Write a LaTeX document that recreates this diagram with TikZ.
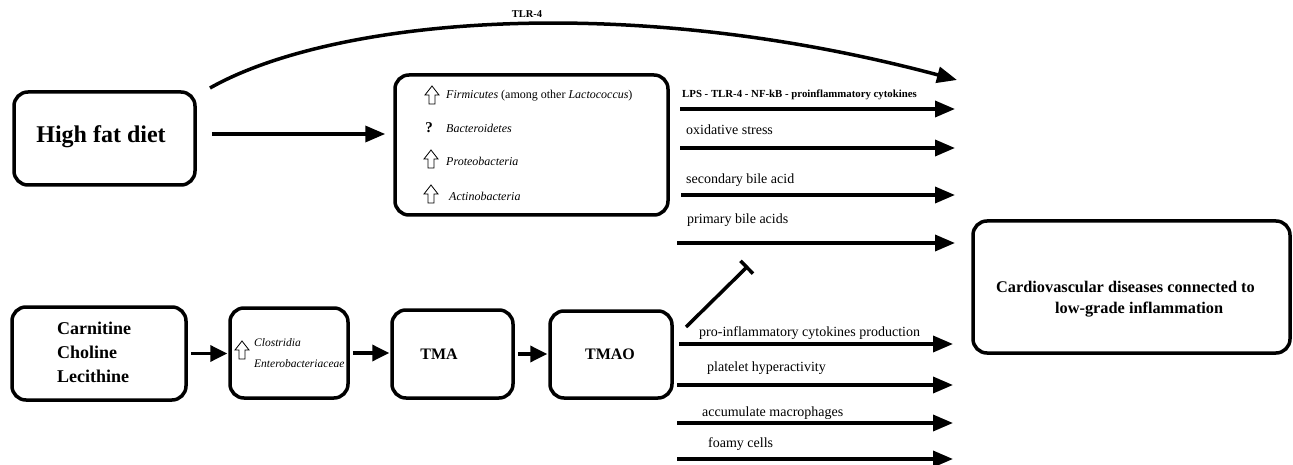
\documentclass[tikz,border=0pt]{standalone}
\usepackage{fontspec}
\setmainfont{Liberation Serif}
\usetikzlibrary{arrows.meta}
\newcommand{\hollowuparrow}[2]{%
  \draw[line width=0.8pt, line join=miter] (#1-3,#2+9) -- (#1-3,#2) -- (#1-7,#2) -- (#1,#2-9) -- (#1+7,#2) -- (#1+3,#2) -- (#1+3,#2+9) -- cycle;}
\begin{document}
\begin{tikzpicture}[x=1pt,y=-1pt,
  box/.style={draw, line width=3.5pt, rounded corners=14pt, inner sep=0pt},
  arr/.style={line width=3.5pt, -{Triangle[length=20pt,width=16pt]}},
  sarr/.style={line width=3.5pt, -{Triangle[length=17pt,width=16pt]}},
  lbl/.style={anchor=base west, inner sep=0pt, font=\fontsize{14}{16}\selectfont},
  bact/.style={anchor=base west, inner sep=0pt, font=\fontsize{12}{14}\selectfont\itshape},
  btxt/.style={inner sep=0pt, font=\bfseries},
]
\useasboundingbox (0,0) rectangle (1293,465);

% boxes
\node[box, minimum width=181pt, minimum height=93pt] (hfd) at (104.5,138.5) {};
\node[box, minimum width=273pt, minimum height=140pt] (bac) at (531.5,145) {};
\node[box, minimum width=317pt, minimum height=132pt] (cvd) at (1131.5,287) {};
\node[box, minimum width=174pt, minimum height=93pt] (car) at (99,353.5) {};
\node[box, minimum width=118pt, minimum height=90pt] (clo) at (289,353) {};
\node[box, minimum width=121pt, minimum height=88pt] (tma) at (452.5,354) {};
\node[box, minimum width=122pt, minimum height=87pt] (tmao) at (611,354.5) {};

% box texts
\node[btxt, font=\fontsize{24}{28}\selectfont\bfseries] (hfdtxt) at (101,137) {High fat diet};
\node[btxt, anchor=base west, align=left, font=\fontsize{18}{24}\selectfont\bfseries] (cartxt) at (57,382) {Carnitine\\Choline\\Lecithine};
\node[btxt, font=\fontsize{16}{18}\selectfont\bfseries] (tmatxt) at (439,354) {TMA};
\node[btxt, font=\fontsize{16}{18}\selectfont\bfseries] (tmaotxt) at (610,354) {TMAO};
\node[btxt, anchor=base west, font=\fontsize{16.3}{18}\selectfont\bfseries] (cvd1) at (996,292) {Cardiovascular diseases connected to};
\node[btxt, anchor=base west, font=\fontsize{16.3}{18}\selectfont\bfseries] (cvd2) at (1055,313) {low-grade inflammation};

% bacteria list
\hollowuparrow{432}{95}
\node[bact] (b1) at (446,99) {Firmicutes \textup{(among other} Lactococcus\textup{)}};
\node[inner sep=0pt, font=\fontsize{15}{16}\selectfont\bfseries] (q2) at (429,128) {?};
\node[bact] (b2) at (446,133) {Bacteroidetes};
\hollowuparrow{431}{159}
\node[bact] (b3) at (446,166) {Proteobacteria};
\hollowuparrow{431}{194}
\node[bact] (b4) at (449,201) {Actinobacteria};

% clostridia box content
\hollowuparrow{242}{350}
\node[bact, font=\fontsize{11.5}{13}\selectfont\itshape] (c1) at (254,346) {Clostridia};
\node[bact, font=\fontsize{11.5}{13}\selectfont\itshape] (c2) at (254,367) {Enterobacteriaceae};

% main arrow high fat diet -> bacteria
\draw[arr] ([xshift=15pt,yshift=4.5pt]hfd.east) -- ([xshift=-8pt,yshift=4.5pt]hfd.east -| bac.west);

% TLR-4 curve
\coordinate (t0) at (210,88);
\coordinate (t1) at (957,80);
\draw[arr] (t0) .. controls (330,20) and (620,-10) .. (t1);
\node[inner sep=0pt, font=\fontsize{10.5}{12}\selectfont\bfseries] (tlr) at (527,14) {TLR-4};

% bottom chain
\draw[sarr] ([xshift=3pt]car.east) -- ([xshift=-1pt]car.east -| clo.west);
\draw[sarr] ([xshift=3pt]clo.east) -- ([xshift=-1pt]clo.east -| tma.west);
\draw[sarr] ([xshift=3pt]tma.east) -- ([xshift=-1pt]tma.east -| tmao.west);

% right arrows
\coordinate (s1) at (680,109); \coordinate (e1) at (955,109);
\coordinate (s2) at (680,148); \coordinate (e2) at (955,148);
\coordinate (s3) at (681,195); \coordinate (e3) at (955,195);
\coordinate (s4) at (677,243); \coordinate (e4) at (955,243);
\coordinate (s5) at (679,344); \coordinate (e5) at (953,344);
\coordinate (s6) at (677,385); \coordinate (e6) at (953,385);
\coordinate (s7) at (677,423); \coordinate (e7) at (953,423);
\coordinate (s8) at (677,459); \coordinate (e8) at (953,459);
\foreach \i in {1,...,8} \draw[arr] (s\i) -- (e\i);

\node[lbl, font=\fontsize{10.8}{12}\selectfont\bfseries] (l1) at (682,98) {LPS - TLR-4 - NF-kB - proinflammatory cytokines};
\node[lbl] (l2) at (686,135) {oxidative stress};
\node[lbl] (l3) at (686,184) {secondary bile acid};
\node[lbl] (l4) at (687,224) {primary bile acids};
\node[lbl] (l5) at (699,336) {pro-inflammatory cytokines production};
\node[lbl] (l6) at (707,371) {platelet hyperactivity};
\node[lbl] (l7) at (702,416) {accumulate macrophages};
\node[lbl] (l8) at (708,447) {foamy cells};

% inhibition bar
\coordinate (i0) at (686,327);
\coordinate (i1) at (748,266);
\draw[line width=3.5pt, -{Bar[width=18pt]}] (i0) -- (i1);
\end{tikzpicture}
\end{document}
